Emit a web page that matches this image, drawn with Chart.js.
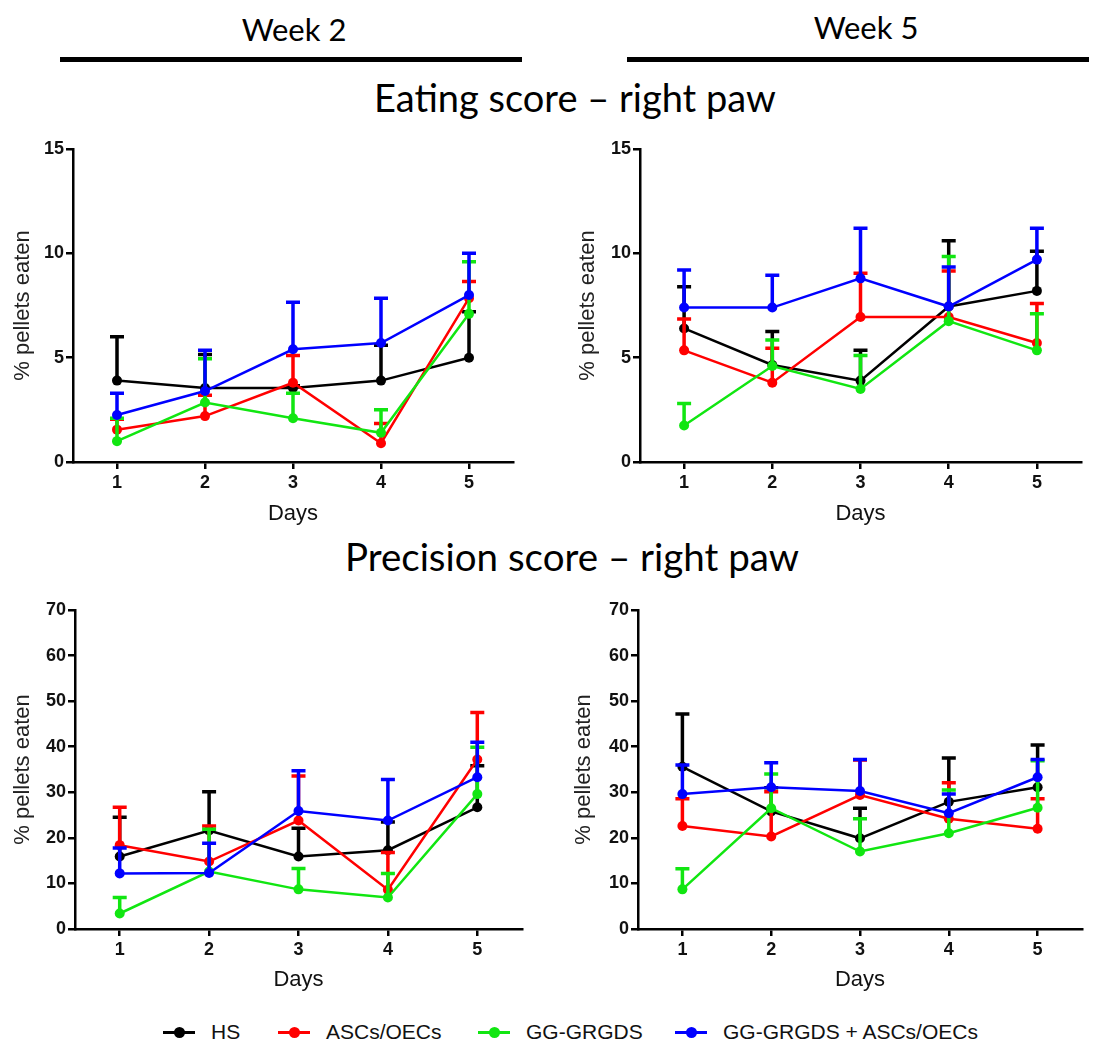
<!DOCTYPE html>
<html>
<head>
<meta charset="utf-8">
<script src="https://cdn.jsdelivr.net/npm/chart.js@4.4.0/dist/chart.umd.min.js"></script>
<style>
  body { margin: 0; background: #fff; }
  #page { position: relative; width: 1119px; height: 1043px; overflow: hidden; font-family: "Liberation Sans", Arial, sans-serif; }
  .head { position: absolute; font-family: Lato, "Open Sans", sans-serif; color: #000; white-space: nowrap; transform: translateX(-50%); }
  .rule { position: absolute; height: 5px; background: #000; }
  .box { position: absolute; }
  #legend { position: absolute; top: 1020px; left: 0; width: 1119px; height: 24px; font-size: 21px; color: #111; }
  .item { position: absolute; top: 0; display: flex; align-items: center; height: 24px; }
  .mark { position: relative; width: 32px; height: 3px; margin-right: 16px; }
  .mark i { position: absolute; left: 11px; top: -4px; width: 11px; height: 11px; border-radius: 50%; }
</style>
</head>
<body>
<div id="page">
  <div class="head" style="left:294px;top:10px;font-size:31px;">Week 2</div>
  <div class="head" style="left:866px;top:8px;font-size:31px;">Week 5</div>
  <div class="rule" style="left:60px;top:57px;width:462px;"></div>
  <div class="rule" style="left:627px;top:57px;width:462px;"></div>
  <div class="head" style="left:575px;top:74px;font-size:38px;">Eating score – right paw</div>
  <div class="head" style="left:572px;top:533px;font-size:38.5px;">Precision score – right paw</div>

  <div class="box" style="left:0px;top:130px;width:530px;height:410px;"><canvas id="c1"></canvas></div>
  <div class="box" style="left:560px;top:130px;width:540px;height:410px;"><canvas id="c2"></canvas></div>
  <div class="box" style="left:0px;top:590px;width:540px;height:420px;"><canvas id="c3"></canvas></div>
  <div class="box" style="left:560px;top:590px;width:540px;height:420px;"><canvas id="c4"></canvas></div>

  <div id="legend"></div>
</div>
<script>
const days = ['1', '2', '3', '4', '5'];
const groups = ['HS', 'ASCs/OECs', 'GG-GRGDS', 'GG-GRGDS + ASCs/OECs'];
const colors = ['#000000', '#ff0000', '#11e611', '#0000ff'];

// Eating score, week 2 (mean and upper SEM)
const eatW2 = [
  [3.9, 3.55, 3.55, 3.9, 5.0],
  [1.55, 2.2, 3.8, 0.9, 7.85],
  [1.0, 2.85, 2.1, 1.4, 7.1],
  [2.25, 3.4, 5.4, 5.7, 8.0]
];
const eatW2Sem = [
  [2.1, 1.6, 0.1, 1.7, 2.2],
  [0.5, 1.0, 1.3, 0.95, 0.8],
  [1.1, 2.1, 1.2, 1.1, 2.5],
  [1.05, 1.95, 2.25, 2.15, 2.0]
];

// Eating score, week 5
const eatW5 = [
  [6.4, 4.65, 3.9, 7.45, 8.2],
  [5.35, 3.8, 6.95, 6.95, 5.7],
  [1.75, 4.6, 3.5, 6.75, 5.35],
  [7.4, 7.4, 8.8, 7.45, 9.7]
];
const eatW5Sem = [
  [2.0, 1.6, 1.45, 3.15, 1.9],
  [1.5, 1.65, 2.1, 2.2, 1.9],
  [1.05, 1.25, 1.6, 3.1, 1.75],
  [1.8, 1.55, 2.4, 1.9, 1.5]
];

// Precision score, week 2
const precW2 = [
  [15.9, 21.6, 15.9, 17.3, 26.7],
  [18.4, 14.8, 23.8, 8.6, 37.2],
  [3.4, 12.6, 8.7, 6.9, 29.6],
  [12.2, 12.3, 25.9, 23.8, 33.3]
];
const precW2Sem = [
  [8.6, 8.5, 6.2, 6.2, 9.1],
  [8.3, 7.8, 9.8, 8.2, 10.3],
  [3.5, 9.3, 4.6, 5.3, 10.3],
  [5.6, 6.5, 8.8, 9.0, 7.7]
];

// Precision score, week 5
const precW5 = [
  [35.6, 25.8, 19.9, 27.9, 31.1],
  [22.6, 20.3, 29.4, 24.2, 22.0],
  [8.7, 26.5, 17.0, 21.0, 26.6],
  [29.6, 31.1, 30.3, 25.4, 33.3]
];
const precW5Sem = [
  [11.6, 5.2, 6.6, 9.6, 9.3],
  [6.0, 9.8, 7.7, 7.9, 6.6],
  [4.5, 7.5, 7.2, 9.5, 10.3],
  [6.4, 5.4, 6.9, 4.2, 3.9]
];

const eatTicks = [0, 5, 10, 15];
const precTicks = [0, 10, 20, 30, 40, 50, 60, 70];

// draws the upward SEM bar of each point, under its own line
const errorBars = {
  id: 'errorBars',
  beforeDatasetDraw(chart, args) {
    const ds = chart.data.datasets[args.index];
    const y = chart.scales.y;
    const ctx = chart.ctx;
    ctx.save();
    ctx.strokeStyle = ds.borderColor;
    ctx.lineWidth = 3.5;
    args.meta.data.forEach((pt, i) => {
      const top = y.getPixelForValue(ds.data[i] + ds.sem[i]);
      ctx.beginPath();
      ctx.moveTo(pt.x, pt.y);
      ctx.lineTo(pt.x, top);
      ctx.moveTo(pt.x - 7, top);
      ctx.lineTo(pt.x + 7, top);
      ctx.stroke();
    });
    ctx.restore();
  }
};

function makeChart(id, means, sems, ticks, box) {
  const datasets = groups.map((g, k) => ({
    label: g,
    data: means[k],
    sem: sems[k],
    borderColor: colors[k],
    backgroundColor: colors[k],
    borderWidth: 2.5,
    pointRadius: 5,
    pointHoverRadius: 5,
    pointBorderWidth: 0,
    tension: 0,
    order: 3 - k
  }));
  new Chart(document.getElementById(id), {
    type: 'line',
    data: { labels: days, datasets: datasets },
    plugins: [errorBars],
    options: {
      responsive: true,
      maintainAspectRatio: false,
      animation: false,
      layout: { padding: { top: box.top, right: box.right, left: box.left, bottom: box.bottom } },
      plugins: { legend: { display: false }, tooltip: { enabled: false } },
      scales: {
        x: {
          type: 'category',
          offset: true,
          grid: { drawOnChartArea: false, drawTicks: true, tickLength: 7, color: '#000', lineWidth: 2.5 },
          border: { color: '#000', width: 2.5 },
          ticks: { color: '#111', padding: 3, font: { family: '"Liberation Sans", Arial', size: 18, weight: 'bold' } },
          title: { display: true, text: 'Days', color: '#111', padding: { top: 4, bottom: 0 }, font: { family: '"Liberation Sans", Arial', size: 22 } },
          afterFit: s => { s.height = box.xh; }
        },
        y: {
          min: ticks[0],
          max: ticks[ticks.length - 1],
          afterBuildTicks: s => { s.ticks = ticks.map(v => ({ value: v })); },
          grid: { drawOnChartArea: false, drawTicks: true, tickLength: 7, color: '#000', lineWidth: 2.5 },
          border: { color: '#000', width: 2.5 },
          ticks: { color: '#111', padding: 2, font: { family: '"Liberation Sans", Arial', size: 18, weight: 'bold' } },
          title: { display: true, text: '% pellets eaten', color: '#222', padding: { top: 0, bottom: 0 }, font: { family: '"Liberation Sans", Arial', size: 22 } },
          afterFit: s => { s.width = box.yw; }
        }
      }
    }
  });
}

makeChart('c1', eatW2, eatW2Sem, eatTicks, { top: 19, right: 17, left: 10, bottom: 13, yw: 63, xh: 65 });
makeChart('c2', eatW5, eatW5Sem, eatTicks, { top: 19, right: 19, left: 15, bottom: 13, yw: 65, xh: 65 });
makeChart('c3', precW2, precW2Sem, precTicks, { top: 20, right: 18, left: 10, bottom: 17, yw: 65, xh: 64 });
makeChart('c4', precW5, precW5Sem, precTicks, { top: 20, right: 18, left: 11, bottom: 17, yw: 67, xh: 64 });

// legend
const legendLeft = [163, 278, 478, 675];
const legend = document.getElementById('legend');
groups.forEach((g, k) => {
  const item = document.createElement('div');
  item.className = 'item';
  item.style.left = legendLeft[k] + 'px';
  item.innerHTML = '<span class="mark" style="background:' + colors[k] + '"><i style="background:' + colors[k] + '"></i></span><span>' + g + '</span>';
  legend.appendChild(item);
});
</script>
</body>
</html>
